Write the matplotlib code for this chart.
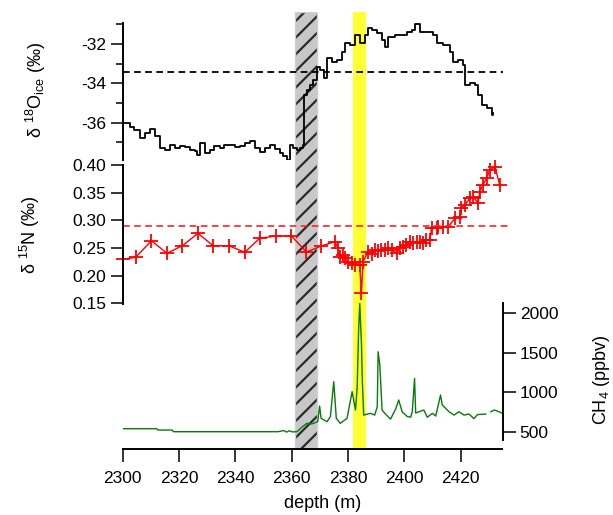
import numpy as np
import matplotlib.pyplot as plt

plt.rcParams['font.family'] = ['Liberation Sans', 'DejaVu Sans']
plt.rcParams['mathtext.fontset'] = 'custom'
plt.rcParams['mathtext.rm'] = 'Liberation Sans'
plt.rcParams['mathtext.it'] = 'Liberation Sans:italic'
plt.rcParams['hatch.linewidth'] = 1.6
plt.rcParams['lines.scale_dashes'] = False
plt.rcParams['axes.unicode_minus'] = False

# d18O of ice (permil) vs depth (m)
d18o_depth = [2300.0, 2302.5, 2304.0, 2306.0, 2308.0, 2309.6, 2311.4, 2313.1, 2314.9, 2316.7,
              2318.5, 2320.2, 2322.0, 2323.8, 2325.5, 2326.3, 2327.3, 2329.1, 2330.9, 2332.5,
              2334.4, 2336.0, 2338.0, 2339.8, 2341.5, 2343.3, 2345.1, 2346.9, 2348.6, 2350.4,
              2352.2, 2354.0, 2355.7, 2357.0, 2358.2, 2359.3, 2360.5, 2361.8, 2362.8, 2363.9,
              2364.3, 2365.3, 2366.4, 2367.4, 2368.9, 2369.9, 2371.4, 2372.4, 2374.2, 2376.0,
              2377.8, 2378.8, 2380.6, 2382.4, 2384.1, 2385.9, 2387.0, 2388.6, 2390.2, 2391.9,
              2393.0, 2394.1, 2396.6, 2398.3, 2400.8, 2402.6, 2403.7, 2405.4, 2407.9, 2410.0,
              2411.5, 2413.6, 2416.1, 2417.1, 2418.9, 2420.7, 2421.4, 2423.2, 2424.9, 2426.0,
              2427.4, 2429.2, 2431.0, 2431.3]
d18o_value = [-36.02, -36.22, -36.35, -36.77, -36.55, -36.31, -36.66, -37.27, -37.38, -37.12,
              -37.30, -37.17, -37.25, -37.38, -37.45, -37.63, -37.02, -37.53, -37.38, -37.20,
              -37.27, -37.15, -37.12, -37.25, -37.17, -37.05, -36.94, -37.27, -37.48, -37.30,
              -37.12, -37.35, -37.53, -37.70, -37.90, -37.12, -37.30, -37.38, -37.27, -37.12,
              -34.60, -34.35, -34.09, -33.83, -33.17, -33.32, -33.73, -32.71, -32.92, -32.81,
              -32.41, -31.95, -32.05, -31.54, -31.95, -31.54, -31.19, -31.30, -31.44, -31.80,
              -32.15, -31.64, -31.54, -31.54, -31.39, -31.29, -30.98, -31.39, -31.39, -31.54,
              -31.95, -32.05, -32.41, -32.92, -32.81, -33.07, -34.09, -33.98, -34.09, -34.60,
              -35.10, -35.26, -35.61, -35.51]
d18o_ref = -33.4

# d15N (permil)
d15n_depth = [2300.1, 2304.6, 2310.2, 2315.7, 2321.2, 2326.7, 2332.1, 2337.7, 2343.3, 2348.6,
              2354.3, 2359.9, 2365.2, 2370.5, 2375.3, 2376.4, 2377.0, 2378.2, 2378.8, 2380.0,
              2381.2, 2382.4, 2384.1, 2384.7, 2385.3, 2387.1, 2388.3, 2389.5, 2390.6, 2391.8,
              2393.0, 2394.2, 2395.4, 2397.2, 2398.3, 2399.5, 2400.7, 2401.9, 2403.1, 2404.3,
              2405.4, 2406.6, 2407.8, 2409.0, 2409.6, 2411.4, 2411.9, 2413.7, 2415.5, 2417.9,
              2419.6, 2420.2, 2421.4, 2423.2, 2424.4, 2426.1, 2426.7, 2427.9, 2429.1, 2430.3,
              2432.1, 2433.8]
d15n_value = [0.2295, 0.2331, 0.2631, 0.2404, 0.2541, 0.2765, 0.2541, 0.2541, 0.2422, 0.2675,
              0.2716, 0.2716, 0.2427, 0.2536, 0.2613, 0.2494, 0.2342, 0.2373, 0.2313, 0.2252,
              0.2223, 0.2192, 0.2192, 0.1680, 0.2252, 0.2432, 0.2385, 0.2463, 0.2445, 0.2463,
              0.2463, 0.2494, 0.2463, 0.2404, 0.2494, 0.2523, 0.2554, 0.2613, 0.2584, 0.2613,
              0.2613, 0.2584, 0.2644, 0.2644, 0.2856, 0.2866, 0.2884, 0.2884, 0.2884, 0.3036,
              0.3065, 0.3217, 0.3277, 0.3398, 0.3427, 0.3308, 0.3517, 0.3638, 0.3760, 0.3910,
              0.3969, 0.3638]
d15n_ref = 0.29

# CH4 (ppbv)
ch4_depth = [2300.0, 2312.0, 2312.5, 2317.5, 2318.0, 2355.0, 2357.0, 2358.0, 2359.0, 2360.0,
             2361.7, 2363.5, 2365.2, 2367.0, 2369.0, 2369.7, 2370.2, 2372.3, 2373.5, 2374.7,
             2375.6, 2377.0, 2379.4, 2381.2, 2382.4, 2383.0, 2383.5, 2383.9, 2384.5, 2384.8,
             2385.3, 2387.7, 2389.2, 2390.1, 2390.4, 2391.0, 2391.8, 2393.0, 2394.8, 2396.6,
             2397.7, 2398.9, 2400.7, 2401.9, 2402.5, 2403.3, 2403.7, 2404.9, 2406.6, 2407.8,
             2409.6, 2410.8, 2412.5, 2413.1, 2414.3, 2415.5, 2417.3, 2419.0, 2420.8, 2422.6,
             2424.3, 2425.6, 2428.5, 2429.4, 2430.3, 2431.5, 2433.2, 2434.4]
ch4_value = [538, 538, 521, 521, 500, 500, 515, 495, 512, 498,
             500, 560, 606, 600, 627, 826, 670, 627, 690, 1133,
             670, 606, 670, 1007, 775, 1070, 1789, 2127, 1620, 1155,
             711, 733, 711, 817, 1513, 1345, 775, 724, 660, 787,
             902, 752, 693, 684, 753, 1175, 737, 753, 775, 683,
             733, 699, 965, 838, 796, 753, 711, 753, 711, 724,
             666, 717, 724, np.nan, 753, 775, 753, 733]

hatch_band = (2361.2, 2368.8)
yellow_band = (2381.8, 2386.2)
xticks = [2300, 2320, 2340, 2360, 2380, 2400, 2420]

W, H = 613, 515
fig = plt.figure(figsize=(W / 100, H / 100), dpi=100)


def box(x0, y0, x1, y1):
    return [x0 / W, 1 - y1 / H, (x1 - x0) / W, (y1 - y0) / H]


xlim = (2300, 2434.6)
tick_kw = dict(direction='out', length=9, width=1.1, labelsize=12.5, pad=3)

# background: bands and depth axis
bg = fig.add_axes(box(122.7, 12, 502, 449))
bg.set_xlim(*xlim)
bg.set_ylim(0, 1)
bg.axvspan(*hatch_band, facecolor='#c8c8c8', edgecolor='none', lw=0)
bg.axvspan(*hatch_band, facecolor='none', edgecolor='#2a2a2a', hatch='//', lw=0)
bg.axvspan(*hatch_band, facecolor='none', edgecolor='#d0d0d0', lw=1)
bg.axvspan(*yellow_band, facecolor='#ffff33', edgecolor='none', lw=0)
for s in ['top', 'right', 'left']:
    bg.spines[s].set_visible(False)
bg.spines['bottom'].set_linewidth(1.4)
bg.set_yticks([])
bg.set_xticks(xticks)
bg.tick_params(axis='x', **tick_kw)
bg.tick_params(axis='x', pad=7)
fig.text(323 / W, 1 - 503 / H, 'depth (m)', ha='center', va='center', fontsize=13)


def panel(rect, side):
    ax = fig.add_axes(rect)
    ax.patch.set_visible(False)
    ax.set_xlim(*xlim)
    for s in ['top', 'right', 'left', 'bottom']:
        ax.spines[s].set_visible(s == side)
    ax.spines[side].set_linewidth(1.4)
    ax.set_xticks([])
    if side == 'right':
        ax.yaxis.tick_right()
    ax.tick_params(axis='y', which='major', **tick_kw)
    ax.tick_params(axis='y', which='minor', direction='out', length=5, width=1.1)
    return ax


# d18O panel
ax1 = panel(box(122.7, 23, 502, 160), 'left')
ax1.plot(d18o_depth, d18o_value, color='black', lw=1.3, drawstyle='steps-post')
ax1.plot([2300, 2434.8], [d18o_ref, d18o_ref], color='black', lw=1.3,
         dashes=(4.8, 3.2), clip_on=False)
ax1.set_ylim(-37.9, -30.93)
ax1.set_yticks([-36, -34, -32])
ax1.set_yticks([-37, -35, -33, -31], minor=True)
fig.text(36 / W, 1 - 90 / H, r'δ $^{18}$O$_{\mathrm{ice}}$ (‰)', rotation=90,
         ha='center', va='center', fontsize=13)

# d15N panel
ax2 = panel(box(122.7, 165, 502, 304), 'left')
ax2.plot(d15n_depth, d15n_value, color='#ff0000', lw=1.0, marker='+',
         markersize=10, markeredgewidth=1.3, clip_on=False)
ax2.plot([2300, 2436.7], [d15n_ref, d15n_ref], color='#ff2020', lw=1.2,
         dashes=(4.8, 3.2), clip_on=False)
ax2.set_ylim(0.1487, 0.40)
ax2.set_yticks([0.15, 0.20, 0.25, 0.30, 0.35, 0.40])
ax2.set_yticklabels(['%.2f' % v for v in [0.15, 0.20, 0.25, 0.30, 0.35, 0.40]])
fig.text(30 / W, 1 - 235 / H, r'δ $^{15}$N (‰)', rotation=90,
         ha='center', va='center', fontsize=13)

# CH4 panel
ax3 = panel(box(122.7, 303, 503, 440), 'right')
ax3.plot(ch4_depth, ch4_value, color='#087a08', lw=1.0)
ax3.set_ylim(395, 2131)
ax3.set_yticks([500, 1000, 1500, 2000])
fig.text(601 / W, 1 - 380 / H, r'CH$_4$ (ppbv)', rotation=90,
         ha='center', va='center', fontsize=13)

fig.savefig('out.png', dpi=100)
